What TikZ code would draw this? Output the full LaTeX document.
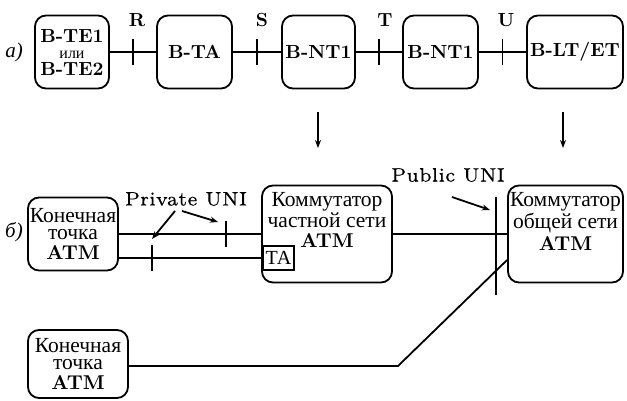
\documentclass[tikz,border=0pt]{standalone}
\usepackage{fontspec}
\setmainfont{lmroman10-regular.otf}[BoldFont=lmroman10-bold.otf,ItalicFont=lmroman10-italic.otf]
\newfontfamily\cyr{Liberation Serif}
\newfontfamily\unifont{lmroman7-regular.otf}[LetterSpace=2,FakeBold=0.5]
\usetikzlibrary{arrows.meta}
\begin{document}
\begin{tikzpicture}[x=1pt,y=-1pt,line width=1.8pt,
  box/.style={draw,rounded corners=11pt,inner sep=0pt,align=center},
  lat/.style={font=\fontsize{19}{17}\selectfont\bfseries},
  cyrt/.style={font=\cyr\fontsize{21.5}{17}\selectfont,align=center,inner sep=0pt},
  uni/.style={font=\unifont\fontsize{19.5}{20}\selectfont,inner sep=0pt},
  arr/.style={-{Stealth[length=8pt,width=6pt]}}]
\useasboundingbox (0,0) rectangle (627,400);
\newcommand\atmtxt{{\rmfamily\bfseries\fontsize{20}{20}\selectfont ATM}}
% ---- row a
\node[cyrt,font=\cyr\itshape\fontsize{21}{21}\selectfont] (la) at (14,52) {а)};
\node[box,minimum width=74pt,minimum height=73pt,lat] (te) at (72,52)
  {B-TE1\\[-1pt]{\cyr\mdseries\fontsize{16}{16}\selectfont или}\\B-TE2};
\node[box,minimum width=75pt,minimum height=73pt,lat] (ta) at (194.5,52) {B-TA};
\node[box,minimum width=73pt,minimum height=73pt,lat] (nt1) at (318.5,52) {B-NT1};
\node[box,minimum width=75pt,minimum height=73pt,lat] (nt2) at (440.5,52) {B-NT1};
\node[box,minimum width=96pt,minimum height=73pt,lat] (lt) at (575,52) {B-LT/ET};
\draw (te) -- coordinate (R) (ta);
\draw (ta) -- coordinate (S) (nt1);
\draw (nt1) -- coordinate (T) (nt2);
\draw (nt2) -- coordinate (U) (lt);
\foreach \p in {R,S,T,U} \draw ([yshift=13pt]\p) -- ([yshift=-13pt]\p);
\node[lat] (Rl) at (137,20) {R};
\node[lat] (Sl) at (262,20) {S};
\node[lat] (Tl) at (385,20) {T};
\node[lat] (Ul) at (506,20) {U};
\coordinate (d1a) at (318,112); \coordinate (d1b) at (318,148);
\coordinate (d2a) at (563,112); \coordinate (d2b) at (563,148);
\draw[arr] (d1a) -- (d1b);
\draw[arr] (d2a) -- (d2b);
% ---- row b
\node[cyrt,font=\cyr\itshape\fontsize{21}{21}\selectfont] (lb) at (14,232) {б)};
\node[box,minimum width=90pt,minimum height=73pt,cyrt] (ep1) at (73,234)
  {Конечная\\точка\\[3pt]\atmtxt};
\node[box,minimum width=130pt,minimum height=97pt] (psw) at (327,234) {};
\node[cyrt,anchor=north] (pswt) at (327,192)
  {Коммутатор\\частной сети\\[3pt]\atmtxt};
\node[draw,minimum width=31pt,minimum height=24pt,inner sep=0pt,anchor=west,
  font=\cyr\fontsize{20}{20}\selectfont] (tabox) at (262,258) {ТА};
\node[box,minimum width=115pt,minimum height=97pt] (pub) at (565.5,234) {};
\node[cyrt,anchor=north] (pubt) at (565.5,192)
  {Коммутатор\\общей сети\\[3pt]\atmtxt};
\node[box,minimum width=100pt,minimum height=68pt,cyrt] (ep2) at (78,364)
  {Конечная\\точка\\[3pt]\atmtxt};
% connectors
\draw (ep1.east) -- (ep1.east -| psw.west);
\draw (ep1.east |- tabox.west) -- (tabox.west);
\coordinate (pt1) at (226,234);
\coordinate (pt2) at (152,258);
\draw ([yshift=13pt]pt1) -- ([yshift=-13pt]pt1);
\draw ([yshift=13pt]pt2) -- ([yshift=-13pt]pt2);
\draw (psw.east) -- (pub.west);
\coordinate (pua) at (496,197); \coordinate (pub2) at (496,295);
\draw (pua) -- (pub2);
\coordinate (bend) at (398,366);
\draw (ep2.east |- bend) -- (bend) -- ([yshift=-26pt]pub.west);
% UNI labels
\node[uni] (pvt) at (186,199) {Private UNI};
\coordinate (pa1) at (175,211); \coordinate (pa2) at (152,239);
\coordinate (pb1) at (182,211); \coordinate (pb2) at (218,222);
\draw[arr] (pa1) -- (pa2);
\draw[arr] (pb1) -- (pb2);
\node[uni] (pbl) at (448,175) {Public UNI};
\coordinate (qa1) at (452,197); \coordinate (qa2) at (490,210);
\draw[arr] (qa1) -- (qa2);
\end{tikzpicture}
\end{document}
